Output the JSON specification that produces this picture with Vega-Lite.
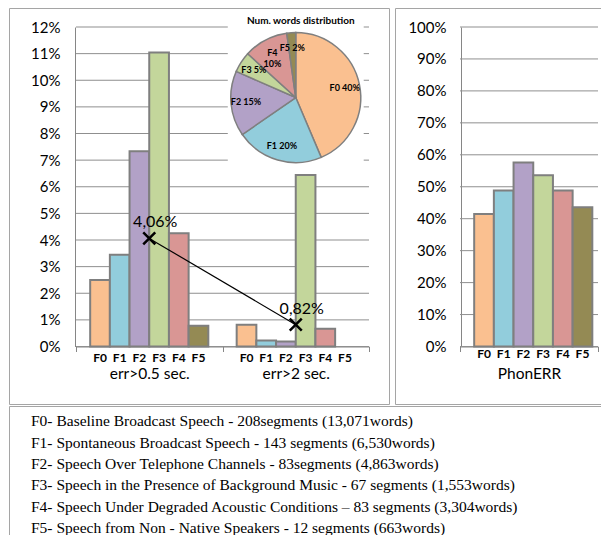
{
  "$schema": "https://vega.github.io/schema/vega-lite/v6.json",
  "padding": {"left": 8, "top": 7, "right": 0, "bottom": 0},
  "background": "white",
  "spacing": 0,
  "config": {
    "view": {"stroke": "#a5a5a5", "strokeWidth": 1},
    "numberFormat": ".0%",
    "axis": {"labelFont": "Lato", "labelColor": "#000", "domainColor": "#868686", "gridColor": "#8f8f8f", "tickColor": "#868686", "title": null, "labelOverlap": false},
    "axisX": {"offset": -57.5, "labelAngle": 0, "tickBand": "extent", "tickSize": 5, "labelPadding": 15, "labelFontSize": 15.5, "grid": false},
    "axisY": {"offset": -66, "ticks": false, "labelPadding": 15, "labelFontSize": 15, "grid": false, "tickCount": 12}
  },
  "datasets": {
    "err": [
      {"g": "err>0.5 sec.", "f": "F0", "v": 0.025},
      {"g": "err>0.5 sec.", "f": "F1", "v": 0.0345},
      {"g": "err>0.5 sec.", "f": "F2", "v": 0.0733},
      {"g": "err>0.5 sec.", "f": "F3", "v": 0.1104},
      {"g": "err>0.5 sec.", "f": "F4", "v": 0.0425},
      {"g": "err>0.5 sec.", "f": "F5", "v": 0.0078},
      {"g": "err>2 sec.", "f": "F0", "v": 0.0082},
      {"g": "err>2 sec.", "f": "F1", "v": 0.0023},
      {"g": "err>2 sec.", "f": "F2", "v": 0.0019},
      {"g": "err>2 sec.", "f": "F3", "v": 0.0644},
      {"g": "err>2 sec.", "f": "F4", "v": 0.0067},
      {"g": "err>2 sec.", "f": "F5", "v": 0}
    ],
    "gridErr": [{"t": 0}, {"t": 0.01}, {"t": 0.02}, {"t": 0.03}, {"t": 0.04}, {"t": 0.05}, {"t": 0.06}, {"t": 0.07}, {"t": 0.08}, {"t": 0.09}, {"t": 0.1}, {"t": 0.11}, {"t": 0.12}],
    "gridPhon": [{"t": 0}, {"t": 0.1}, {"t": 0.2}, {"t": 0.3}, {"t": 0.4}, {"t": 0.5}, {"t": 0.6}, {"t": 0.7}, {"t": 0.8}, {"t": 0.9}, {"t": 1}],
    "conn": [
      {"g": "err>0.5 sec.", "v": 0.0406, "lab": "4,06%"},
      {"g": "err>2 sec.", "v": 0.0082, "lab": "0,82%"}
    ],
    "words": [
      {"f": "F0", "words": 13071, "plabel": "F0 40%"},
      {"f": "F1", "words": 6530, "plabel": "F1 20%"},
      {"f": "F2", "words": 4863, "plabel": "F2 15%"},
      {"f": "F3", "words": 1553, "plabel": "F3 5%"},
      {"f": "F4", "words": 3304, "plabel": "F4\n10%"},
      {"f": "F5", "words": 663, "plabel": "F5 2%"}
    ],
    "phon": [
      {"g": "PhonERR", "f": "F0", "v": 0.415},
      {"g": "PhonERR", "f": "F1", "v": 0.488},
      {"g": "PhonERR", "f": "F2", "v": 0.576},
      {"g": "PhonERR", "f": "F3", "v": 0.536},
      {"g": "PhonERR", "f": "F4", "v": 0.488},
      {"g": "PhonERR", "f": "F5", "v": 0.436}
    ],
    "legend": [
      {"i": 0, "t": "F0- Baseline Broadcast Speech - 208segments (13,071words)"},
      {"i": 1, "t": "F1- Spontaneous Broadcast Speech - 143 segments (6,530words)"},
      {"i": 2, "t": "F2- Speech Over Telephone Channels - 83segments (4,863words)"},
      {"i": 3, "t": "F3- Speech in the Presence of Background Music - 67 segments (1,553words)"},
      {"i": 4, "t": "F4- Speech Under Degraded Acoustic Conditions – 83 segments (3,304words)"},
      {"i": 5, "t": "F5- Speech from Non - Native Speakers - 12 segments (663words)"}
    ]
  },
  "vconcat": [
    {
      "spacing": 4,
      "hconcat": [
        {
          "width": 380,
          "height": 396,
          "layer": [
            {
              "data": {"name": "gridErr"},
              "mark": {"type": "rule", "color": "#8f8f8f", "strokeWidth": 1},
              "encoding": {
                "y": {"field": "t", "type": "quantitative", "scale": {"domain": [0, 0.12], "range": [338.5, 19], "nice": false}},
                "x": {"datum": "err>0.5 sec.", "type": "nominal", "bandPosition": 0, "scale": {"range": [67, 360], "paddingInner": 0, "paddingOuter": 0}},
                "x2": {"datum": "err>2 sec.", "bandPosition": 1}
              }
            },
            {
              "data": {"name": "err"},
              "transform": [{"filter": "datum.v > 0"}],
              "mark": {"type": "bar", "stroke": "#7f7f7f", "strokeWidth": 2},
              "encoding": {
                "x": {"field": "g", "type": "nominal"},
                "xOffset": {"field": "f", "type": "nominal", "scale": {"paddingInner": 0, "paddingOuter": 0.72}},
                "y": {"field": "v", "type": "quantitative"},
                "color": {"field": "f", "type": "nominal", "scale": {"domain": ["F0", "F1", "F2", "F3", "F4", "F5"], "range": ["#FAC090", "#92CDDC", "#B2A1C7", "#C3D69B", "#D99694", "#948A54"]}, "legend": null}
              }
            },
            {
              "data": {"name": "err"},
              "mark": {"type": "text", "baseline": "top", "dy": 6, "fontSize": 12, "fontWeight": "bold", "font": "Lato", "color": "#000"},
              "encoding": {
                "x": {"field": "g", "type": "nominal"},
                "xOffset": {"field": "f", "type": "nominal"},
                "y": {"datum": 0, "type": "quantitative"},
                "text": {"field": "f"}
              }
            },
            {
              "data": {"values": [{"box": 1}]},
              "mark": {"type": "point", "shape": "M-0.877,-1H0.877V1H-0.877Z", "filled": true, "fill": "white", "strokeWidth": 0, "size": 24025, "opacity": 1},
              "encoding": {
                "x": {"datum": "err>2 sec.", "type": "nominal"},
                "y": {"datum": 0.0951, "type": "quantitative"}
              }
            },
            {
              "data": {"name": "conn"},
              "mark": {"type": "line", "color": "#000", "strokeWidth": 1.2},
              "encoding": {
                "x": {"field": "g", "type": "nominal"},
                "y": {"field": "v", "type": "quantitative"}
              }
            },
            {
              "data": {"name": "conn"},
              "mark": {"type": "point", "shape": "M-1,-1L1,1M-1,1L1,-1", "filled": false, "stroke": "#000", "strokeWidth": 2.5, "size": 144, "opacity": 1},
              "encoding": {
                "x": {"field": "g", "type": "nominal"},
                "y": {"field": "v", "type": "quantitative"}
              }
            },
            {
              "data": {"name": "conn"},
              "mark": {"type": "text", "baseline": "bottom", "dx": 6, "dy": -8, "fontSize": 16, "font": "Lato", "color": "#000"},
              "encoding": {
                "x": {"field": "g", "type": "nominal"},
                "y": {"field": "v", "type": "quantitative"},
                "text": {"field": "lab"}
              }
            },
            {
              "data": {"name": "words"},
              "mark": {"type": "arc", "outerRadius": 65, "stroke": "#7f7f7f", "strokeWidth": 1.5},
              "encoding": {
                "theta": {"field": "words", "type": "quantitative", "stack": true},
                "order": {"field": "f", "sort": "ascending"},
                "color": {"field": "f", "type": "nominal", "legend": null},
                "x": {"datum": "err>2 sec.", "type": "nominal"},
                "y": {"datum": 0.0935, "type": "quantitative"}
              }
            },
            {
              "data": {"name": "words"},
              "mark": {"type": "text", "radius": 50, "fontSize": 9, "fontWeight": "bold", "font": "Lato", "lineBreak": "\n", "color": "#000", "align": "center", "baseline": "middle"},
              "encoding": {
                "theta": {"field": "words", "type": "quantitative", "stack": true},
                "order": {"field": "f", "sort": "ascending"},
                "detail": {"field": "f", "type": "nominal"},
                "text": {"field": "plabel"},
                "x": {"datum": "err>2 sec.", "type": "nominal"},
                "y": {"datum": 0.0935, "type": "quantitative"}
              }
            },
            {
              "data": {"values": [{"t": "Num. words distribution"}]},
              "mark": {"type": "text", "fontSize": 10, "fontWeight": "bold", "font": "Lato", "dx": 5, "color": "#000", "baseline": "middle"},
              "encoding": {
                "x": {"datum": "err>2 sec.", "type": "nominal"},
                "y": {"datum": 0.1222, "type": "quantitative"},
                "text": {"field": "t"}
              }
            }
          ]
        },
        {
          "width": 208,
          "height": 396,
          "layer": [
            {
              "data": {"name": "gridPhon"},
              "mark": {"type": "rule", "color": "#8f8f8f", "strokeWidth": 1},
              "encoding": {
                "y": {"field": "t", "type": "quantitative", "scale": {"domain": [0, 1], "range": [338.5, 19], "nice": false}},
                "x": {"datum": "PhonERR", "type": "nominal", "bandPosition": 0, "scale": {"range": [65, 203], "paddingInner": 0, "paddingOuter": 0}},
                "x2": {"datum": "PhonERR", "bandPosition": 1}
              }
            },
            {
              "data": {"name": "phon"},
              "mark": {"type": "bar", "stroke": "#7f7f7f", "strokeWidth": 2},
              "encoding": {
                "x": {"field": "g", "type": "nominal"},
                "xOffset": {"field": "f", "type": "nominal", "scale": {"paddingInner": 0, "paddingOuter": 0.67}},
                "y": {"field": "v", "type": "quantitative"},
                "color": {"field": "f", "type": "nominal", "scale": {"domain": ["F0", "F1", "F2", "F3", "F4", "F5"], "range": ["#FAC090", "#92CDDC", "#B2A1C7", "#C3D69B", "#D99694", "#948A54"]}, "legend": null}
              }
            },
            {
              "data": {"name": "phon"},
              "mark": {"type": "text", "baseline": "top", "dy": 2.5, "fontSize": 12, "fontWeight": "bold", "font": "Lato", "color": "#000"},
              "encoding": {
                "x": {"field": "g", "type": "nominal"},
                "xOffset": {"field": "f", "type": "nominal"},
                "y": {"datum": 0, "type": "quantitative"},
                "text": {"field": "f"}
              }
            }
          ]
        }
      ]
    },
    {
      "width": 592,
      "height": 131,
      "data": {"name": "legend"},
      "mark": {"type": "text", "align": "left", "baseline": "middle", "font": "Liberation Serif", "fontSize": 15.5, "color": "#000"},
      "encoding": {
        "y": {"field": "i", "type": "ordinal", "scale": {"type": "point", "range": [15.2, 122.2], "padding": 0}, "axis": null},
        "x": {"datum": 0, "type": "quantitative", "scale": {"domain": [0, 1], "range": [22, 592]}, "axis": null},
        "text": {"field": "t"}
      }
    }
  ]
}
